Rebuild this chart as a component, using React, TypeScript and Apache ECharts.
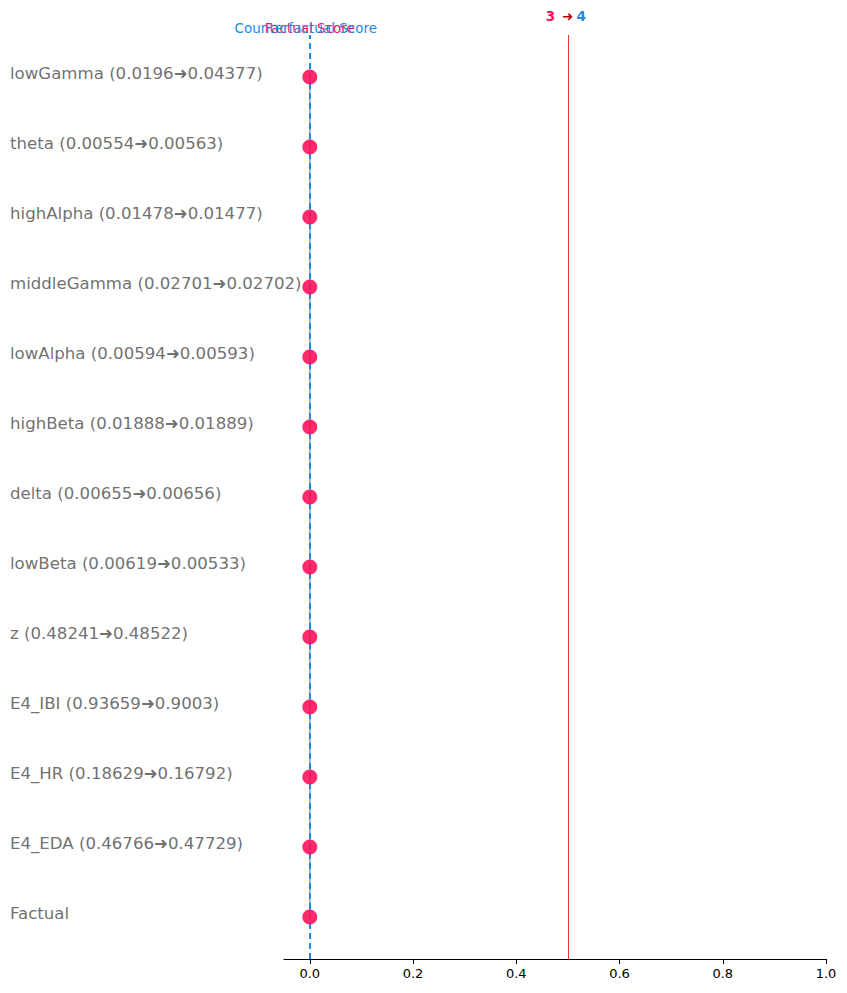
import React, { useEffect, useRef } from "react";
import * as echarts from "echarts";

// rows from bottom (index 0) to top
const featureNames = [
  "Factual",
  "E4_EDA",
  "E4_HR",
  "E4_IBI",
  "z",
  "lowBeta",
  "delta",
  "highBeta",
  "lowAlpha",
  "middleGamma",
  "highAlpha",
  "theta",
  "lowGamma",
];
const fromValues: (string | null)[] = [
  null, "0.46766", "0.18629", "0.93659", "0.48241", "0.00619", "0.00655",
  "0.01888", "0.00594", "0.02701", "0.01478", "0.00554", "0.0196",
];
const toValues: (string | null)[] = [
  null, "0.47729", "0.16792", "0.9003", "0.48522", "0.00533", "0.00656",
  "0.01889", "0.00593", "0.02702", "0.01477", "0.00563", "0.04377",
];
const scoreValues = [0, 0, 0, 0, 0, 0, 0, 0, 0, 0, 0, 0, 0];
const xTicks = [0, 0.2, 0.4, 0.6, 0.8, 1.0];
const threshold = 0.5;
const factualClass = "3";
const counterfactualClass = "4";

const PINK = "#ff0d57";
const BLUE = "#1e88e5";
const X_MIN = -0.05;

export default function App() {
  const ref = useRef<HTMLDivElement>(null);
  useEffect(() => {
    if (!ref.current) return;
    const chart = echarts.init(ref.current, null, { renderer: "svg" });
    const labelOf = (i: number) =>
      fromValues[i] === null
        ? featureNames[i]
        : `${featureNames[i]} (${fromValues[i]}➜${toValues[i]})`;
    chart.setOption({
      animation: false,
      grid: { left: 284, right: 21, top: 35, bottom: 34 },
      xAxis: {
        type: "value",
        min: X_MIN,
        max: 1.0,
        splitLine: { show: false },
        axisLine: { show: true, onZero: false, lineStyle: { color: "#000", width: 1.2 } },
        axisTick: { show: true, length: 5, customValues: xTicks, lineStyle: { color: "#000" } },
        axisLabel: {
          customValues: xTicks,
          formatter: (v: number) => v.toFixed(1),
          color: "#000",
          fontFamily: "DejaVu Sans",
          fontSize: 13,
          margin: 8,
        },
      },
      yAxis: {
        type: "value",
        min: -0.6,
        max: 12.6,
        show: false,
      },
      series: [
        {
          type: "scatter",
          data: scoreValues.map((_, i) => [X_MIN, i]),
          symbolSize: 1,
          itemStyle: { color: "rgba(0,0,0,0)" },
          silent: true,
          z: 1,
          label: {
            show: true,
            position: "inside",
            align: "left",
            verticalAlign: "middle",
            offset: [-274, -4],
            formatter: (p: any) => labelOf(p.dataIndex),
            color: "#4a4a4a",
            fontFamily: "DejaVu Sans",
            fontSize: 16.6,
          },
          markLine: {
            symbol: "none",
            silent: true,
            lineStyle: { color: "rgba(0,0,0,0)", width: 1, type: "solid" },
            label: {
              show: true,
              position: "end",
              distance: 0,
              formatter: "Factual Score",
              color: PINK,
              fontFamily: "DejaVu Sans",
              fontSize: 13.5,
            },
            data: [{ xAxis: 0 }],
          },
        },
        {
          type: "line",
          data: scoreValues.map((v, i) => [v, i]),
          showSymbol: false,
          lineStyle: { color: "#999999", width: 1.5 },
          z: 2,
          markLine: {
            symbol: "none",
            silent: true,
            lineStyle: { color: BLUE, width: 2, type: [6, 4] },
            label: {
              show: true,
              position: "end",
              distance: 0,
              offset: [-4, 0],
              formatter: "Counterfactual Score",
              color: BLUE,
              fontFamily: "DejaVu Sans",
              fontSize: 13.5,
            },
            data: [{ xAxis: 0 }],
          },
        },
        {
          type: "scatter",
          data: scoreValues.map((v, i) => [v, i]),
          symbolSize: 15,
          itemStyle: { color: PINK, opacity: 0.88 },
          z: 5,
          markLine: {
            symbol: "none",
            silent: true,
            lineStyle: { color: "#e53935", width: 1, type: "solid" },
            label: {
              show: true,
              position: "end",
              distance: 12,
              offset: [-2, 0],
              formatter: `{a|${factualClass}}  {b|➜} {c|${counterfactualClass}}`,
              rich: {
                a: { color: PINK, fontWeight: "bold", fontSize: 13.5, fontFamily: "DejaVu Sans" },
                b: { color: "#c00000", fontWeight: "bold", fontSize: 13.5, fontFamily: "DejaVu Sans" },
                c: { color: BLUE, fontWeight: "bold", fontSize: 13.5, fontFamily: "DejaVu Sans" },
              },
            },
            data: [{ xAxis: threshold }],
          },
        },
      ],
    });
    return () => chart.dispose();
  }, []);
  return (
    <div
      ref={ref}
      style={{ position: "fixed", left: 0, top: 0, width: 847, height: 993, background: "#fff" }}
    />
  );
}
